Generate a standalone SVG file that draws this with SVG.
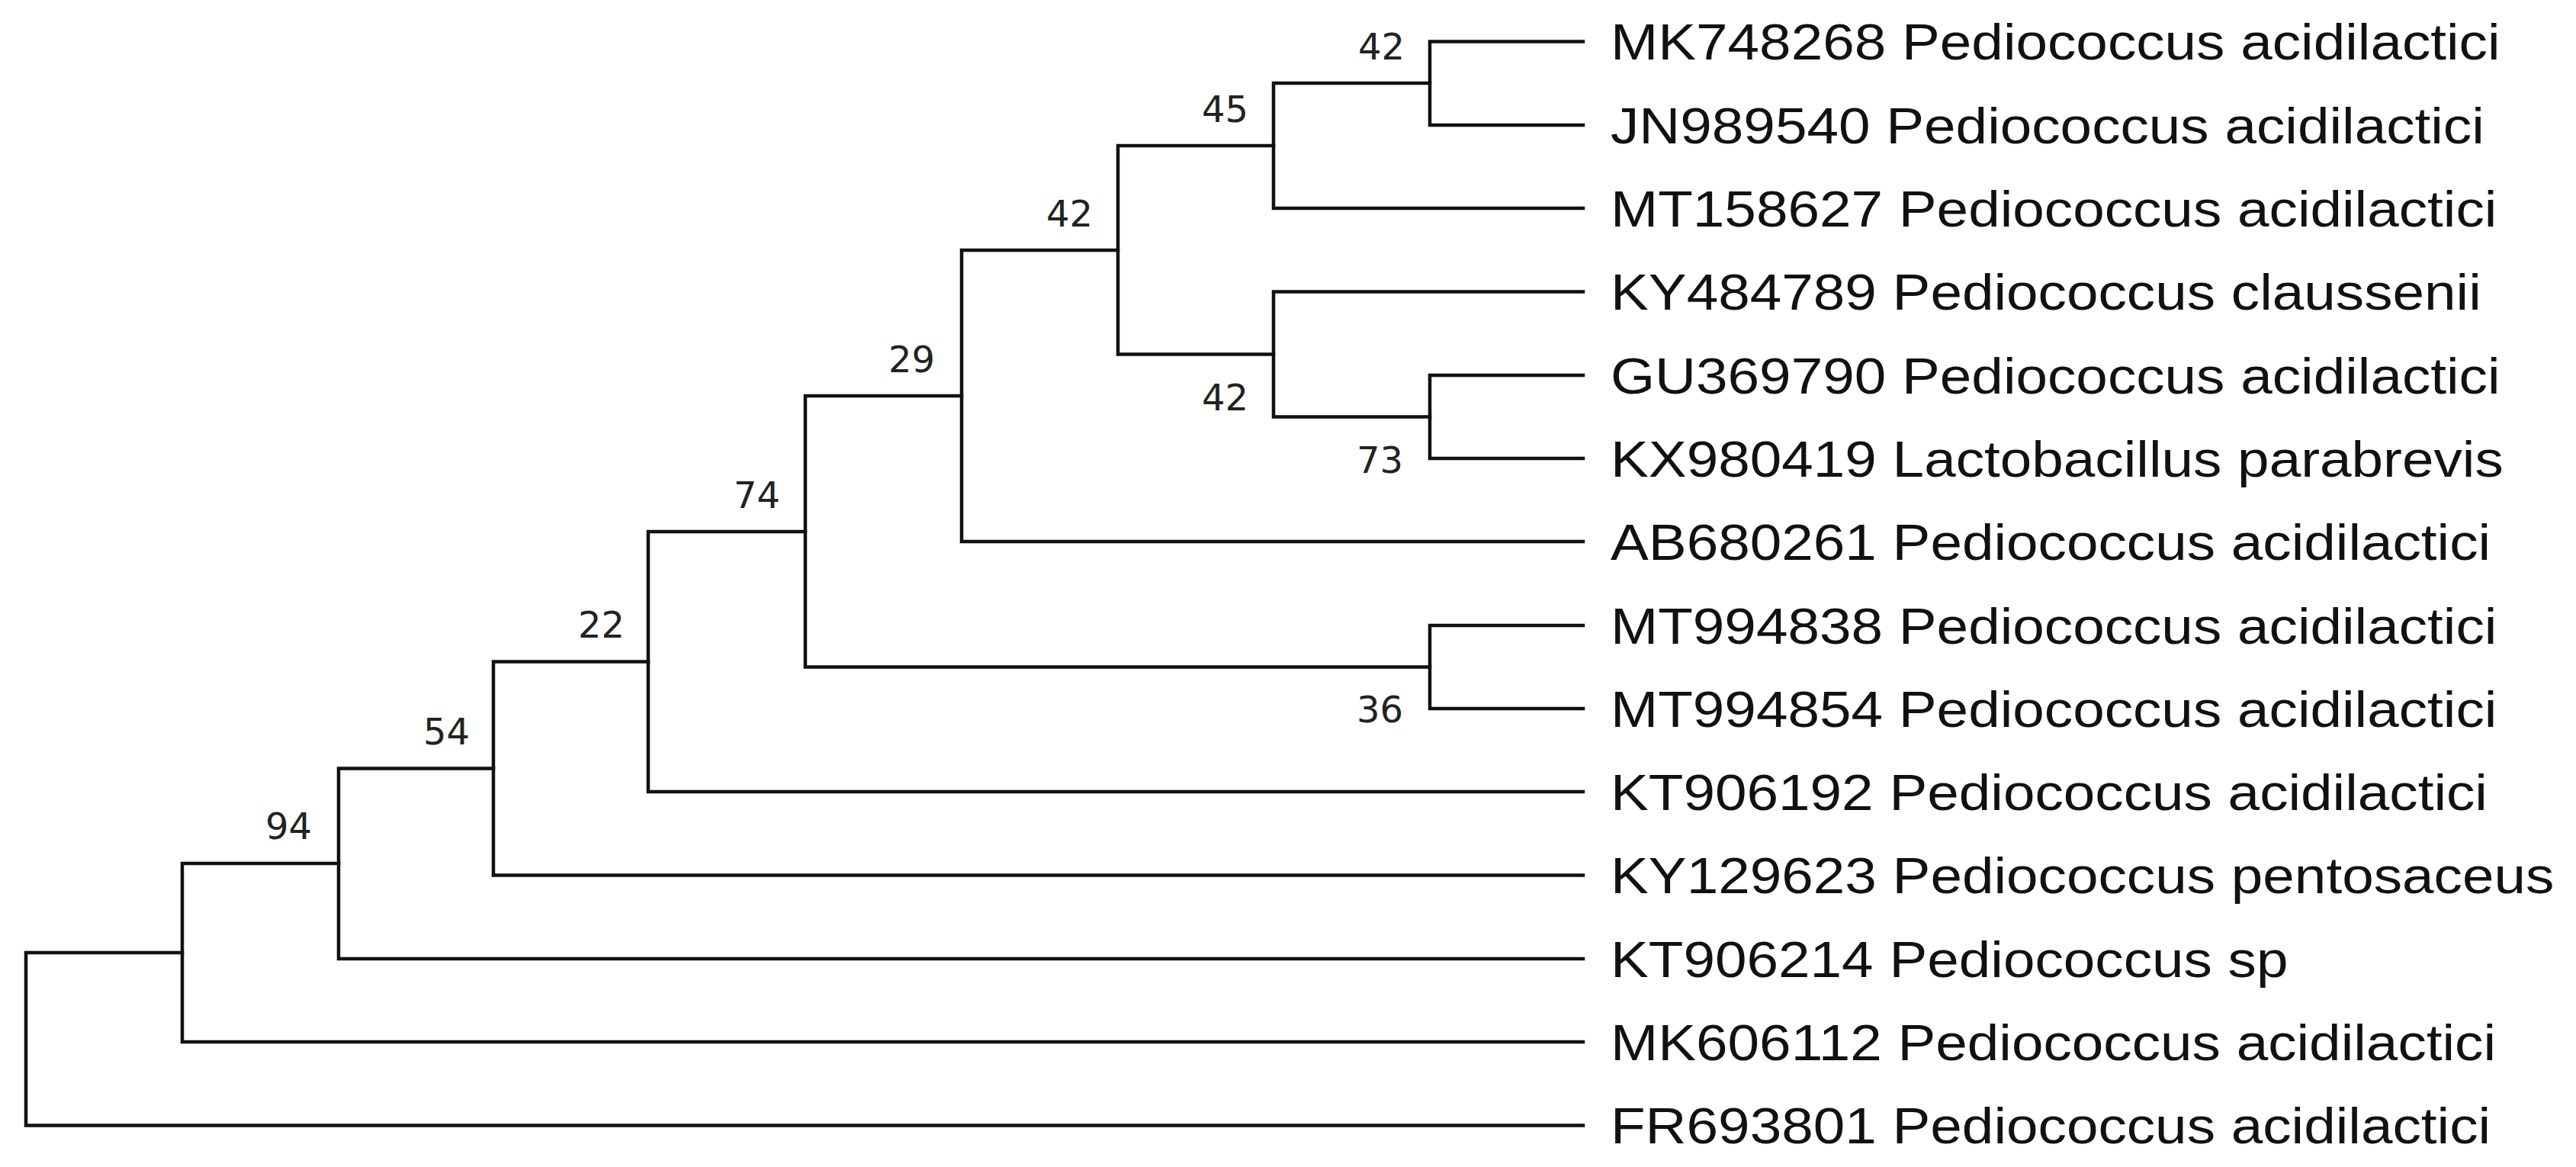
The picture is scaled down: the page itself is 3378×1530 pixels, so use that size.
<svg xmlns="http://www.w3.org/2000/svg" width="3378" height="1530" viewBox="0 0 3378 1530">
<style>
.br{fill:none;stroke:#111;stroke-width:4.5;stroke-linecap:square;stroke-linejoin:miter}
.lf{font-family:"Liberation Sans",Arial,sans-serif;font-size:67px;fill:#111}
.bs{font-family:"DejaVu Sans",Verdana,sans-serif;font-size:48px;fill:#222;text-anchor:end}
</style>
<rect width="3378" height="1530" fill="#fff"/>
<g id="connectors">
<path class="br" d="M2076 54.5 H1875 V164 H2076"/>
<path class="br" d="M1875 109 H1670 V273 H2076"/>
<path class="br" d="M2076 492 H1875 V601 H2076"/>
<path class="br" d="M2076 382.5 H1670 V546.5 H1875"/>
<path class="br" d="M1670 191 H1466 V464.5 H1670"/>
<path class="br" d="M1466 328 H1261 V710 H2076"/>
<path class="br" d="M2076 820 H1875 V929 H2076"/>
<path class="br" d="M1261 519 H1056 V874.5 H1875"/>
<path class="br" d="M1056 697 H850 V1038 H2076"/>
<path class="br" d="M850 867.5 H647 V1147.5 H2076"/>
<path class="br" d="M647 1007.5 H444 V1257 H2076"/>
<path class="br" d="M444 1132 H239 V1366 H2076"/>
<path class="br" d="M239 1249 H34 V1475.5 H2076"/>
</g>
<g id="internal-nodes">
<g id="n42a"><text class="bs" x="1842" y="78">42</text></g>
<g id="n45"><text class="bs" x="1637" y="160">45</text></g>
<g id="n42b"><text class="bs" x="1433" y="297">42</text></g>
<g id="n42c"><text class="bs" x="1637" y="538">42</text></g>
<g id="n73"><text class="bs" x="1840" y="620">73</text></g>
<g id="n29"><text class="bs" x="1226" y="488">29</text></g>
<g id="n36"><text class="bs" x="1840" y="947">36</text></g>
<g id="n74"><text class="bs" x="1023" y="666">74</text></g>
<g id="n22"><text class="bs" x="819" y="836">22</text></g>
<g id="n54"><text class="bs" x="616" y="976">54</text></g>
<g id="n94"><text class="bs" x="409" y="1100">94</text></g>
</g>
<g id="leaves" transform="translate(2112 0) scale(1.115 1)">
<g id="MK748268"><text class="lf" x="0" y="78.5">MK748268 Pediococcus acidilactici</text></g>
<g id="JN989540"><text class="lf" x="0" y="188">JN989540 Pediococcus acidilactici</text></g>
<g id="MT158627"><text class="lf" x="0" y="297">MT158627 Pediococcus acidilactici</text></g>
<g id="KY484789"><text class="lf" x="0" y="406.5">KY484789 Pediococcus claussenii</text></g>
<g id="GU369790"><text class="lf" x="0" y="516">GU369790 Pediococcus acidilactici</text></g>
<g id="KX980419"><text class="lf" x="0" y="625">KX980419 Lactobacillus parabrevis</text></g>
<g id="AB680261"><text class="lf" x="0" y="734">AB680261 Pediococcus acidilactici</text></g>
<g id="MT994838"><text class="lf" x="0" y="844">MT994838 Pediococcus acidilactici</text></g>
<g id="MT994854"><text class="lf" x="0" y="953">MT994854 Pediococcus acidilactici</text></g>
<g id="KT906192"><text class="lf" x="0" y="1062">KT906192 Pediococcus acidilactici</text></g>
<g id="KY129623"><text class="lf" x="0" y="1171.5">KY129623 Pediococcus pentosaceus</text></g>
<g id="KT906214"><text class="lf" x="0" y="1281">KT906214 Pediococcus sp</text></g>
<g id="MK606112"><text class="lf" x="0" y="1390">MK606112 Pediococcus acidilactici</text></g>
<g id="FR693801"><text class="lf" x="0" y="1499.5">FR693801 Pediococcus acidilactici</text></g>
</g>
</svg>
